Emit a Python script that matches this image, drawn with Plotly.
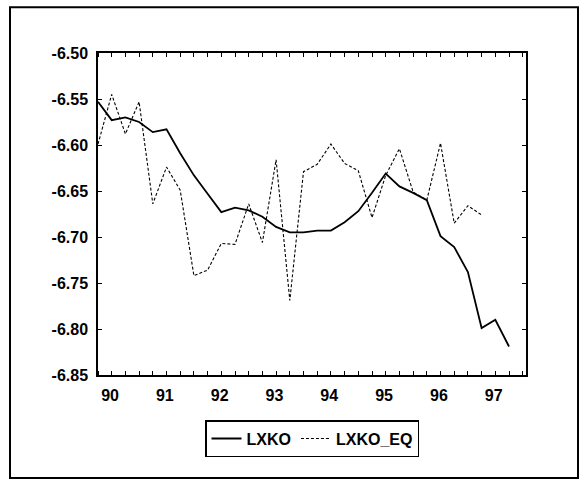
import plotly.graph_objects as go

# Quarterly observations, 1990Q1 onward
start_year = 1990
lxko = [-6.553, -6.573, -6.570, -6.575, -6.586, -6.583, -6.609, -6.633,
        -6.653, -6.673, -6.668, -6.671, -6.678, -6.689, -6.695, -6.695,
        -6.693, -6.693, -6.684, -6.672, -6.652, -6.631, -6.645, -6.652,
        -6.660, -6.699, -6.711, -6.738, -6.799, -6.790, -6.819]
lxko_eq = [-6.599, -6.545, -6.588, -6.553, -6.664, -6.624, -6.649, -6.742,
           -6.736, -6.707, -6.708, -6.664, -6.706, -6.616, -6.769, -6.629,
           -6.621, -6.599, -6.620, -6.628, -6.679, -6.633, -6.604, -6.651,
           -6.660, -6.598, -6.685, -6.666, -6.676]
year_labels = ["90", "91", "92", "93", "94", "95", "96", "97"]
y_ticks = [-6.85, -6.80, -6.75, -6.70, -6.65, -6.60, -6.55, -6.50]
y_labels = ["-6.85", "-6.80", "-6.75", "-6.70", "-6.65", "-6.60", "-6.55", "-6.50"]

def quarter_axis(n):
    return [start_year + i / 4 for i in range(n)]

FONT = "Liberation Sans"
tick_font = dict(family=FONT, size=16, color="black", weight="bold")

fig = go.Figure()
fig.add_trace(go.Scatter(x=quarter_axis(len(lxko)), y=lxko, name="LXKO",
                         mode="lines", line=dict(color="black", width=1.8)))
fig.add_trace(go.Scatter(x=quarter_axis(len(lxko_eq)), y=lxko_eq, name="LXKO_EQ",
                         mode="lines", line=dict(color="black", width=1.1, dash="3px,2px")))

label_pos = [start_year + k + 0.22 for k in range(len(year_labels))]

fig.update_xaxes(range=[1990.0, 1997.81], showgrid=False, zeroline=False,
                 showline=True, linecolor="black", linewidth=1.5, mirror="ticks",
                 tickvals=label_pos, ticktext=year_labels, ticks="",
                 ticklabelstandoff=5,
                 minor=dict(tickmode="linear", tick0=1990, dtick=0.25,
                            ticks="inside", ticklen=4, tickcolor="black", tickwidth=1),
                 tickfont=tick_font)
fig.update_yaxes(range=[-6.85, -6.50], tickvals=y_ticks, ticktext=y_labels,
                 showgrid=False, zeroline=False, showline=True, linecolor="black",
                 linewidth=1.5, mirror="ticks", ticks="inside", ticklen=4,
                 tickcolor="black", ticklabelstandoff=5,
                 tickfont=tick_font)

# outer frame around the whole graph
pw, ph = 428, 322.3
fig.add_shape(type="rect", xref="paper", yref="paper",
              x0=(10 - 98) / pw, x1=(578 - 98) / pw,
              y0=(375 - 478) / ph, y1=(375 - 7) / ph,
              line=dict(color="black", width=2), layer="below")

fig.update_layout(
    width=580, height=480, autosize=False,
    margin=dict(l=98, r=54, t=53, b=105),
    paper_bgcolor="white", plot_bgcolor="white",
    font=dict(family=FONT, size=16, color="black"),
    showlegend=True,
    legend=dict(orientation="h", x=0.5, xanchor="center", y=-0.14, yanchor="top",
                bordercolor="black", borderwidth=1.5, bgcolor="white",
                itemwidth=30, tracegroupgap=0,
                font=dict(family=FONT, size=16, color="black", weight="bold")),
)

fig.write_html("out.html")
